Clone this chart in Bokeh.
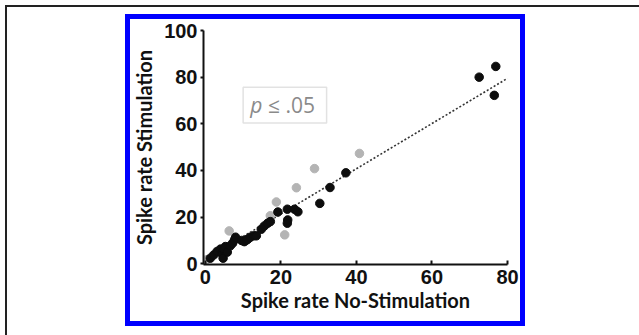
from bokeh.plotting import figure
from bokeh.models import BoxAnnotation, Label, Range1d, InlineStyleSheet
from bokeh.embed import file_html
from bokeh.resources import INLINE

# ---- data ----
black_x = [1.3, 2.2, 3.1, 4.0, 4.4, 4.7, 4.9, 5.3, 5.8, 6.6, 7.2, 7.7, 8.0, 9.6, 10.3,
           10.9, 11.2, 11.9, 12.8, 13.5, 14.8, 15.6, 16.5, 17.2, 19.2, 21.7, 21.8, 21.7,
           23.6, 24.5, 30.3, 33.0, 37.2, 72.5, 76.5, 76.9]
black_y = [2.4, 3.8, 5.3, 6.3, 4.3, 2.4, 6.0, 7.4, 5.0, 7.7, 8.8, 10.2, 11.4, 10.0, 9.5,
           10.2, 10.5, 11.4, 12.0, 12.0, 14.8, 16.2, 17.4, 18.1, 22.2, 23.4, 18.8, 17.4,
           23.4, 22.3, 25.9, 32.7, 39.0, 80.0, 72.2, 84.6]
grey_x = [0.3, 6.3, 17.2, 18.8, 21.0, 24.1, 28.9, 40.8]
grey_y = [1.7, 14.1, 20.6, 26.5, 12.4, 32.6, 40.8, 47.3]
fit_x = [0, 80]
fit_y = [2.0, 79.5]
x_ticks = [0, 20, 40, 60, 80]
y_ticks = [0, 20, 40, 60, 80, 100]
x_label = "Spike rate No-Stimulation"
y_label = "Spike rate Stimulation"
p_text_italic = "p"
p_text_rest = "≤ .05"

css = """
:host { position: relative; }
:host::before {
  content: ""; position: absolute; left: 5px; top: 5px;
  width: 634px; height: 330px; box-sizing: border-box;
  border-left: 2px solid #222222; border-top: 2px solid #222222;
  pointer-events: none; z-index: 10;
}
:host::after {
  content: ""; position: absolute; left: 125px; top: 14px;
  width: 400px; height: 312px; box-sizing: border-box;
  border: 5px solid #0000ff; pointer-events: none; z-index: 10;
}
"""

p = figure(width=639, height=335, output_backend="svg", toolbar_location=None,
           x_range=Range1d(-0.5, 80), y_range=Range1d(-0.3, 100),
           min_border_left=203, min_border_right=132, min_border_top=30,
           min_border_bottom=71, background_fill_color="white",
           border_fill_color="white")
p.stylesheets = [InlineStyleSheet(css=css)]
p.outline_line_color = None
p.grid.visible = False

tick_font = "Liberation Sans"
lab_font = "Lato"
for ax in (p.xaxis[0], p.yaxis[0]):
    ax.axis_line_width = 2
    ax.axis_line_color = "#111111"
    ax.major_tick_line_width = 2
    ax.major_tick_line_color = "#111111"
    ax.minor_tick_line_color = None
    ax.major_label_text_font = tick_font
    ax.major_label_text_font_style = "bold"
    ax.major_label_text_font_size = "20px"
    ax.major_label_text_color = "#111111"
    ax.axis_label_text_font = lab_font
    ax.axis_label_text_font_style = "bold"
    ax.axis_label_text_font_size = "20px"
    ax.axis_label_text_color = "#111111"

p.xaxis.ticker = x_ticks
p.yaxis.ticker = y_ticks
p.xaxis.major_tick_in = 4
p.xaxis.major_tick_out = 0
p.yaxis.major_tick_in = 0
p.yaxis.major_tick_out = 3
p.xaxis.major_label_standoff = 5
p.yaxis.major_label_standoff = 3
p.xaxis.axis_label = x_label
p.yaxis.axis_label = y_label
p.xaxis.axis_label_standoff = 1
p.yaxis.axis_label_standoff = 5

# p-value box
box = BoxAnnotation(left=10, right=32.1, bottom=60.3, top=75.7,
                    fill_color="white", fill_alpha=1.0,
                    line_color="#a0a0a0", line_width=1.5)
p.add_layout(box)
p.add_layout(Label(x=11.9, y=67.9, text=p_text_italic, text_font="Open Sans",
                   text_font_style="italic", text_font_size="21px",
                   text_color="#8a8a8a", text_baseline="middle", text_align="left"))
p.add_layout(Label(x=16.6, y=67.9, text=p_text_rest, text_font="Open Sans",
                   text_font_size="21px", text_color="#8a8a8a",
                   text_baseline="middle", text_align="left"))

p.line(fit_x, fit_y, line_color="#333333", line_width=1.6, line_dash="2 2")
p.scatter(grey_x, grey_y, size=8.5, fill_color="#b4b4b4", line_color="#b4b4b4")
p.scatter(black_x, black_y, size=8.5, fill_color="#0d0d0d", line_color="#0d0d0d")

open("out.html", "w").write(file_html(p, INLINE))
